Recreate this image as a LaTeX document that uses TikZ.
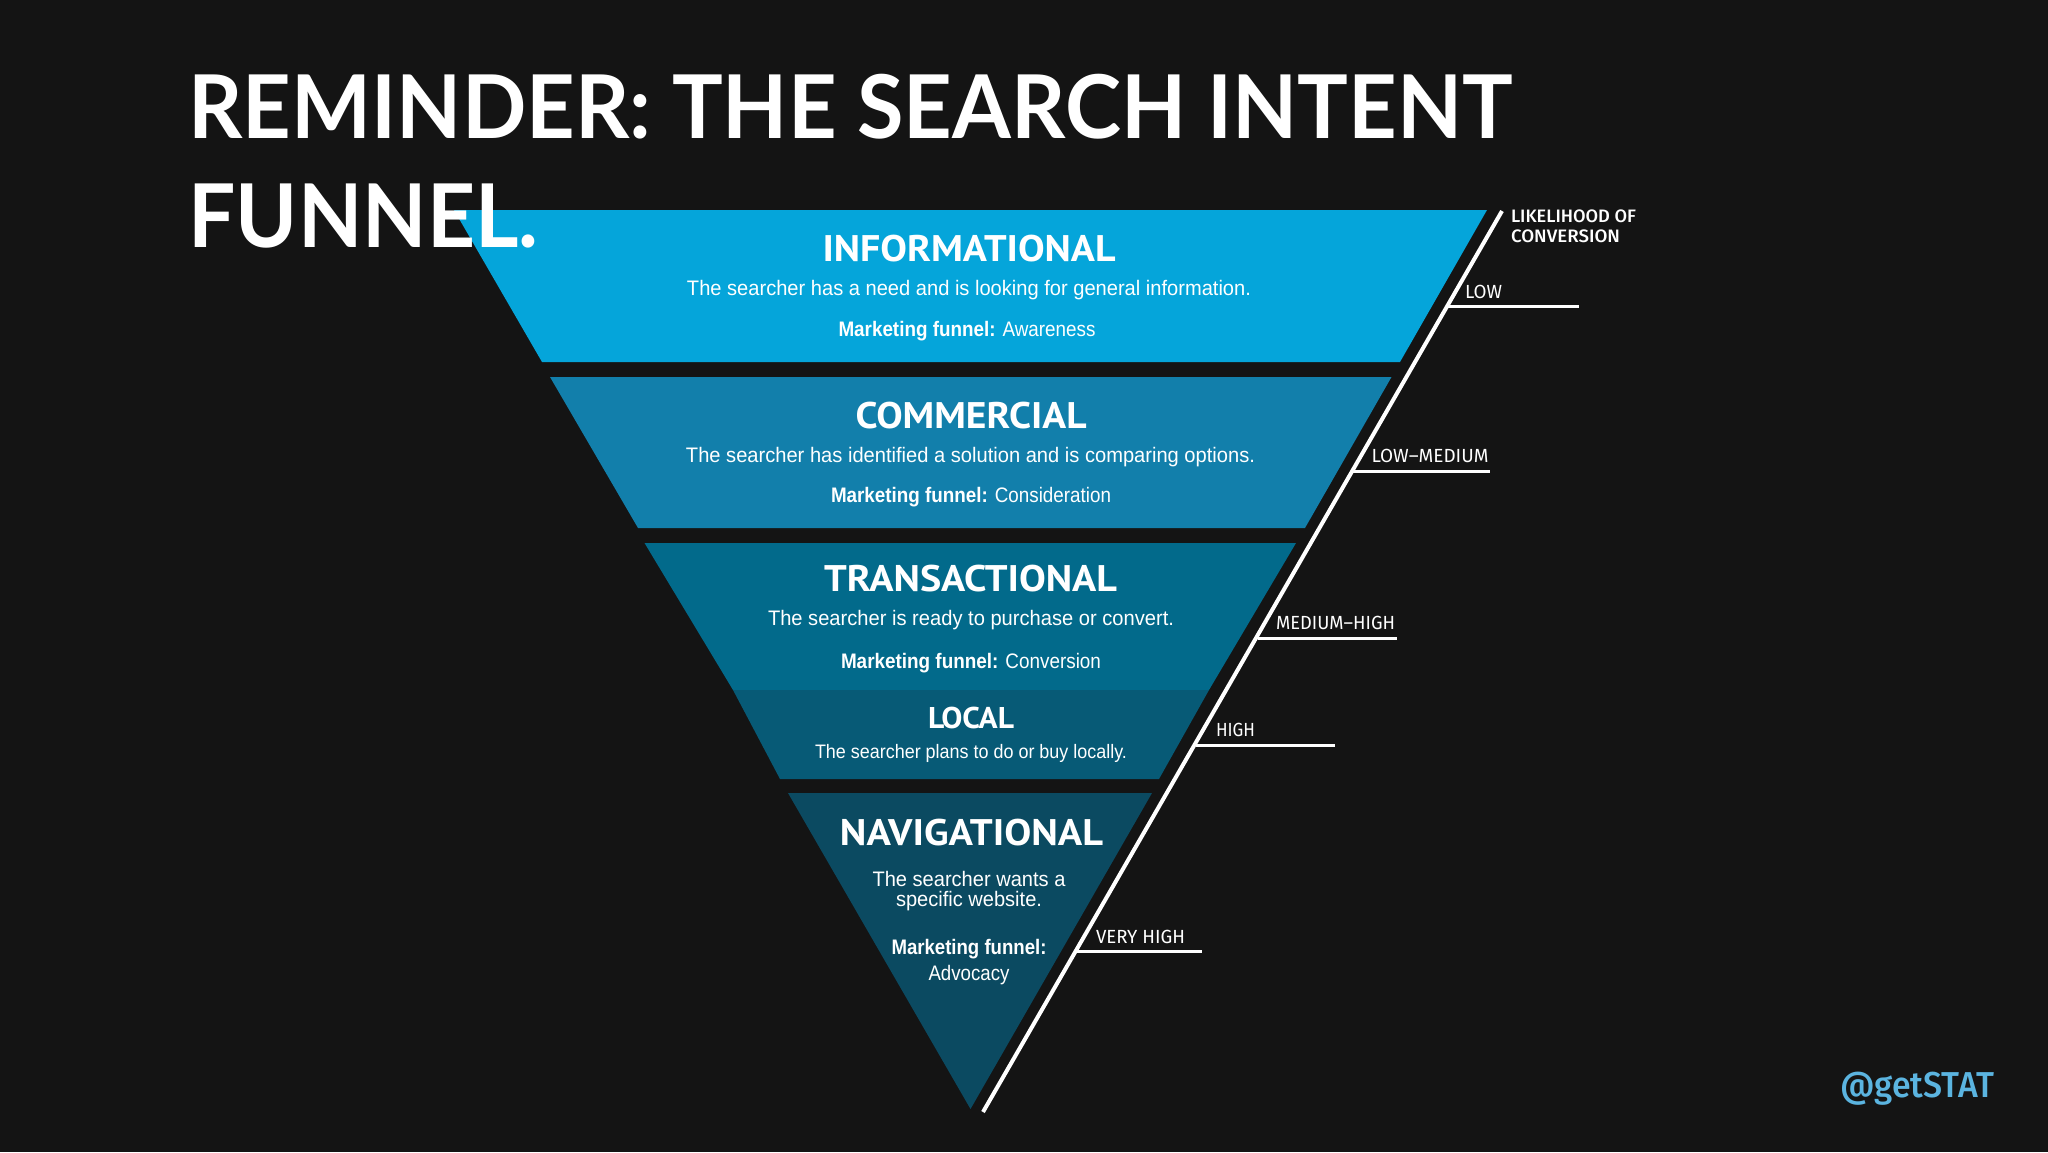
\documentclass[tikz,border=0pt]{standalone}
\usepackage{fontspec}
\usepackage{graphicx}
\setmainfont{Liberation Sans}
\newfontfamily\titlefont{Lato}
\newfontfamily\handlefont{Fira Sans}[UprightFont=* Medium]
\newfontfamily\headfont{PT Sans}
\newfontfamily\tagfont{Fira Sans}
\newfontfamily\tagboldfont{Fira Sans}[UprightFont=* Medium]
\newcommand\fitw[2]{\resizebox{#1pt}{\height}{#2}}
\definecolor{bgc}{HTML}{141414}
\definecolor{infoc}{HTML}{05A5DA}
\definecolor{commc}{HTML}{127FAB}
\definecolor{tranc}{HTML}{026A8B}
\definecolor{locc}{HTML}{075A76}
\definecolor{navc}{HTML}{0B4A61}
\definecolor{statc}{HTML}{5BB4E0}
\tikzset{
  txt/.style={text=white,inner sep=0pt,outer sep=0pt,anchor=base},
  titletxt/.style={txt,anchor=base west,font=\titlefont\bfseries\fontsize{88}{88}\selectfont},
  headtxt/.style={txt,font=\headfont\bfseries\fontsize{37}{37}\selectfont},
  bodytxt/.style={txt,font=\fontsize{21}{21}\selectfont},
  tagtxt/.style={txt,anchor=base west,font=\tagfont\fontsize{19}{19}\selectfont},
  tagbold/.style={txt,anchor=base west,font=\tagboldfont\fontsize{18}{18}\selectfont},
  axisline/.style={draw=white,line width=4pt},
  tickline/.style={draw=white,line width=3pt},
}
\begin{document}
\begin{tikzpicture}[x=1pt,y=-1pt]
\useasboundingbox (0,0) rectangle (2048,1152);
\fill[bgc] (0,0) rectangle (2048,1152);
% bands
\fill[infoc] (454,210) -- (1487,210) -- (1400,362) -- (542,362) -- cycle;
\fill[commc] (550,377) -- (1391.5,377) -- (1305,528) -- (638,528) -- cycle;
\fill[tranc] (644.5,543) -- (1296,543) -- (1209,690) -- (733,690) -- cycle;
\fill[locc] (733,690) -- (1209,690) -- (1159,779) -- (780,779) -- cycle;
\fill[navc] (788,793) -- (1152,793) -- (970.5,1109) -- cycle;
% title
\node[titletxt] (t1) at (188.5,138.5) {\fitw{1324}{REMINDER: THE SEARCH INTENT}};
\node[titletxt] (t2) at (188.5,247.7) {\fitw{350}{FUNNEL.}};
% informational
\node[headtxt] (h1) at (969,261.7) {\fitw{293}{INFORMATIONAL}};
\node[bodytxt] (b1) at (969,295) {\fitw{564}{The searcher has a need and is looking for general information.}};
\node[bodytxt] (m1) at (967,336.2) {\fitw{257}{\textbf{Marketing funnel:} Awareness}};
% commercial
\node[headtxt] (h2) at (971,428) {\fitw{231}{COMMERCIAL}};
\node[bodytxt] (b2) at (970.5,462) {\fitw{569}{The searcher has identified a solution and is comparing options.}};
\node[bodytxt] (m2) at (971,502.5) {\fitw{280}{\textbf{Marketing funnel:} Consideration}};
% transactional
\node[headtxt] (h3) at (970.5,591.5) {\fitw{293}{TRANSACTIONAL}};
\node[bodytxt] (b3) at (971,625.7) {\fitw{406}{The searcher is ready to purchase or convert.}};
\node[bodytxt] (m3) at (971,668.3) {\fitw{260}{\textbf{Marketing funnel:} Conversion}};
% local
\node[headtxt,font=\headfont\bfseries\fontsize{30}{30}\selectfont] (h4) at (971,728.5) {\fitw{86}{LOCAL}};
\node[bodytxt,font=\fontsize{19.5}{19.5}\selectfont] (b4) at (971,758.5) {\fitw{312}{The searcher plans to do or buy locally.}};
% navigational
\node[headtxt] (h5) at (971.5,845) {\fitw{263}{NAVIGATIONAL}};
\node[bodytxt] (b5) at (969,886) {\fitw{193}{The searcher wants a}};
\node[bodytxt] (b6) at (969,906) {\fitw{146}{specific website.}};
\node[bodytxt] (m5) at (969,954) {\fitw{155}{\textbf{Marketing funnel:}}};
\node[bodytxt] (m6) at (969,980) {\fitw{81}{Advocacy}};
% axis
\coordinate (axT) at (1502,211);
\coordinate (axB) at (983,1112);
\draw[axisline] (axT) -- (axB);
\coordinate (t1a) at (1448,306.7); \coordinate (t1b) at (1579,306.7);
\coordinate (t2a) at (1352,471.5); \coordinate (t2b) at (1490,471.5);
\coordinate (t3a) at (1258,638);   \coordinate (t3b) at (1396.5,638);
\coordinate (t4a) at (1195.5,745); \coordinate (t4b) at (1335,745);
\coordinate (t5a) at (1075.6,951.5); \coordinate (t5b) at (1202,951.5);
\draw[tickline] (t1a) -- (t1b);
\draw[tickline] (t2a) -- (t2b);
\draw[tickline] (t3a) -- (t3b);
\draw[tickline] (t4a) -- (t4b);
\draw[tickline] (t5a) -- (t5b);
% axis labels
\node[tagbold] (l0) at (1511,222) {\fitw{125}{LIKELIHOOD OF}};
\node[tagbold] (l00) at (1511,242) {\fitw{109}{CONVERSION}};
\node[tagtxt] (l1) at (1465,298) {\fitw{37}{LOW}};
\node[tagtxt] (l2) at (1371.5,462) {\fitw{117}{LOW–MEDIUM}};
\node[tagtxt] (l3) at (1276,629.5) {\fitw{119}{MEDIUM–HIGH}};
\node[tagtxt] (l4) at (1216,736) {\fitw{39}{HIGH}};
\node[tagtxt] (l5) at (1096,943) {\fitw{89}{VERY HIGH}};
% handle
\node[tagtxt,font=\handlefont\fontsize{36}{36}\selectfont,text=statc] (s) at (1840,1097) {\fitw{154}{@getSTAT}};
\end{tikzpicture}
\end{document}
